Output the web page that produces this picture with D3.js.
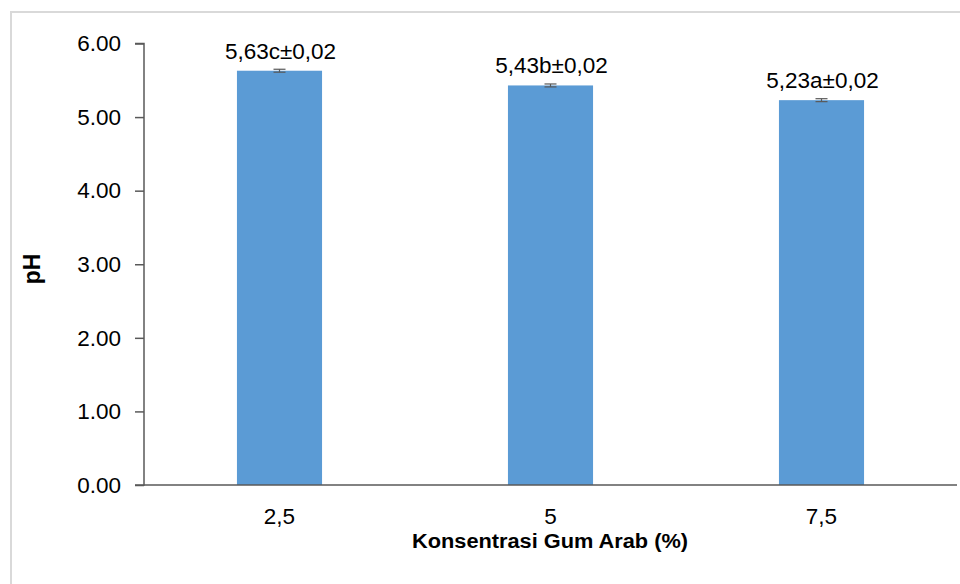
<!DOCTYPE html>
<html><head><meta charset="utf-8">
<script src="https://cdn.jsdelivr.net/npm/d3@7"></script>
<style>
html,body{margin:0;padding:0;background:#fff;}
svg{display:block;}
text{font-family:"Liberation Sans",Arial,sans-serif;}
</style></head>
<body>
<svg id="chart" width="960" height="584"></svg>
<script>
const categories = ["2,5", "5", "7,5"];
const values = [5.63, 5.43, 5.23];
const errors = [0.02, 0.02, 0.02];
const labels = ["5,63c\u00b10,02", "5,43b\u00b10,02", "5,23a\u00b10,02"];
const yTicks = [0, 1, 2, 3, 4, 5, 6];
const xTitle = "Konsentrasi Gum Arab (%)";
const yTitle = "pH";

(function () {
const svg = d3.select("#chart");
svg.append("rect").attr("x", 11).attr("y", 12).attr("width", 960).attr("height", 600)
  .attr("fill", "#fff").attr("stroke", "#d9d9d9").attr("stroke-width", 2);

const pLeft = 144, pRight = 957, pTop = 43.5, pBottom = 485;
const FS = 22.5;
const x = d3.scaleBand().domain(categories).range([pLeft, pRight]).padding(0);
const y = d3.scaleLinear().domain([0, 6]).range([pBottom, pTop]);
const barW = x.bandwidth() * 0.314;

// bars
svg.selectAll("rect.bar").data(values).join("rect").attr("class", "bar")
  .attr("x", (d, i) => x(categories[i]) + x.bandwidth() / 2 - barW / 2)
  .attr("y", d => y(d))
  .attr("width", barW)
  .attr("height", d => y(0) - y(d))
  .attr("fill", "#5b9bd5");

// y axis
const yAxis = d3.axisLeft(y).tickValues(yTicks).tickFormat(d3.format(".2f")).tickSize(9).tickPadding(14);
const gy = svg.append("g").attr("transform", `translate(${pLeft},0)`).call(yAxis);
gy.select(".domain").attr("stroke", "#595959").attr("stroke-width", 1.5).attr("d", `M-9,${pTop}H0V${pBottom}H-9`);
gy.selectAll(".tick line").attr("stroke", "#595959").attr("stroke-width", 1.5);
gy.selectAll(".tick text").attr("font-size", FS).attr("fill", "#000")
  .attr("font-family", "Liberation Sans, Arial, sans-serif");

// x axis
const xAxis = d3.axisBottom(x).tickSize(0).tickPadding(23.5);
const gx = svg.append("g").attr("transform", `translate(0,${pBottom})`).call(xAxis);
gx.select(".domain").attr("stroke", "#595959").attr("stroke-width", 1.5).attr("d", `M${pLeft},0H${pRight}`);
gx.selectAll(".tick text").attr("font-size", FS).attr("fill", "#000")
  .attr("font-family", "Liberation Sans, Arial, sans-serif");

// error bars
const eb = svg.append("g").attr("stroke", "#595959").attr("stroke-width", 1.2);
values.forEach((v, i) => {
  const cx = x(categories[i]) + x.bandwidth() / 2;
  const y1 = y(v + errors[i]), y2 = y(v - errors[i]);
  eb.append("line").attr("x1", cx).attr("x2", cx).attr("y1", y1).attr("y2", y2);
  eb.append("line").attr("x1", cx - 6).attr("x2", cx + 6).attr("y1", y1).attr("y2", y1);
  eb.append("line").attr("x1", cx - 6).attr("x2", cx + 6).attr("y1", y2).attr("y2", y2);
});

// value labels
svg.selectAll("text.lbl").data(labels).join("text").attr("class", "lbl")
  .attr("x", (d, i) => x(categories[i]) + x.bandwidth() / 2 + 1)
  .attr("y", (d, i) => y(values[i]) - 12)
  .attr("text-anchor", "middle").attr("font-size", FS).attr("fill", "#000")
  .text(d => d);

// axis titles
svg.append("text").attr("x", 550).attr("y", 548).attr("text-anchor", "middle")
  .attr("font-size", 20).attr("font-weight", "bold").attr("fill", "#000")
  .attr("textLength", 276).attr("lengthAdjust", "spacingAndGlyphs")
  .text(xTitle);
svg.append("text").attr("transform", "translate(39.5,269) rotate(-90)").attr("text-anchor", "middle")
  .attr("font-size", 23).attr("font-weight", "bold").attr("fill", "#000")
  .text(yTitle);
})();
</script>
</body></html>
